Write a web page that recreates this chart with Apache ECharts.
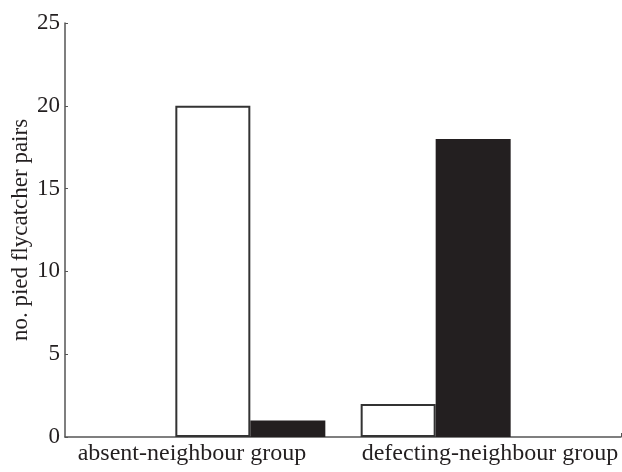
<!DOCTYPE html>
<html>
<head>
<meta charset="utf-8">
<script src="https://cdn.jsdelivr.net/npm/echarts@6/dist/echarts.min.js"></script>
<style>html,body{margin:0;padding:0;background:#fff;}#c{width:622px;height:472px;}</style>
</head>
<body>
<div id="c"></div>
<script>
var groupPositions = [1, 2];
var groupLabels = ['absent-neighbour group', 'defecting-neighbour group'];
var whiteValues = [20, 2];
var blackValues = [1, 18];
var yTicks = [0, 5, 10, 15, 20, 25];

var font = 'Liberation Serif';
var textColor = '#231f20';
var chart = echarts.init(document.getElementById('c'));
chart.setOption({
  animation: false,
  backgroundColor: '#fff',
  grid: { left: 65, right: 1, top: 23, bottom: 35, containLabel: false, outerBoundsMode: 'none' },
  xAxis: [
    {
      type: 'value', min: 0, max: 3,
      splitLine: { show: false },
      axisLine: { show: true, onZero: false, lineStyle: { color: '#555', width: 1.5 } },
      axisTick: { show: true, inside: true, length: 4, customValues: [3], lineStyle: { color: '#555' } },
      axisLabel: { show: false }
    },
    {
      type: 'category', position: 'bottom', data: groupLabels,
      axisLine: { show: false }, axisTick: { show: false }, splitLine: { show: false },
      axisLabel: {
        show: true, interval: 0, margin: 5,
        fontFamily: font, fontSize: 24, color: textColor,
        formatter: function (v, i) { return i === 0 ? '{l|' + v + '}' : '{r|' + v + '}'; },
        rich: {
          l: { fontFamily: font, fontSize: 24, color: textColor, padding: [0, 24, 0, 0] },
          r: { fontFamily: font, fontSize: 24, color: textColor, padding: [0, 0, 0, 16] }
        }
      }
    }
  ],
  yAxis: {
    type: 'value', min: 0, max: 25, interval: 5,
    name: 'no. pied flycatcher pairs', nameLocation: 'middle', nameGap: 33,
    nameMoveOverlap: false,
    nameTextStyle: { fontFamily: font, fontSize: 23, color: textColor },
    splitLine: { show: false },
    axisLine: { show: true, lineStyle: { color: '#555', width: 1.5 } },
    axisTick: { show: true, inside: true, length: 3, lineStyle: { color: '#555' } },
    axisLabel: { fontFamily: font, fontSize: 23, color: textColor, margin: 5 }
  },
  series: [
    {
      type: 'bar', barWidth: 75, barGap: '0%', xAxisIndex: 0,
      data: groupPositions.map(function (x, i) { return [x, whiteValues[i]]; }),
      itemStyle: { color: '#ffffff', borderColor: '#333', borderWidth: 2 }
    },
    {
      type: 'bar', barWidth: 75, barGap: '0%', xAxisIndex: 0,
      data: groupPositions.map(function (x, i) { return [x, blackValues[i]]; }),
      itemStyle: { color: '#231f20', borderWidth: 0 }
    }
  ]
});
</script>
</body>
</html>
